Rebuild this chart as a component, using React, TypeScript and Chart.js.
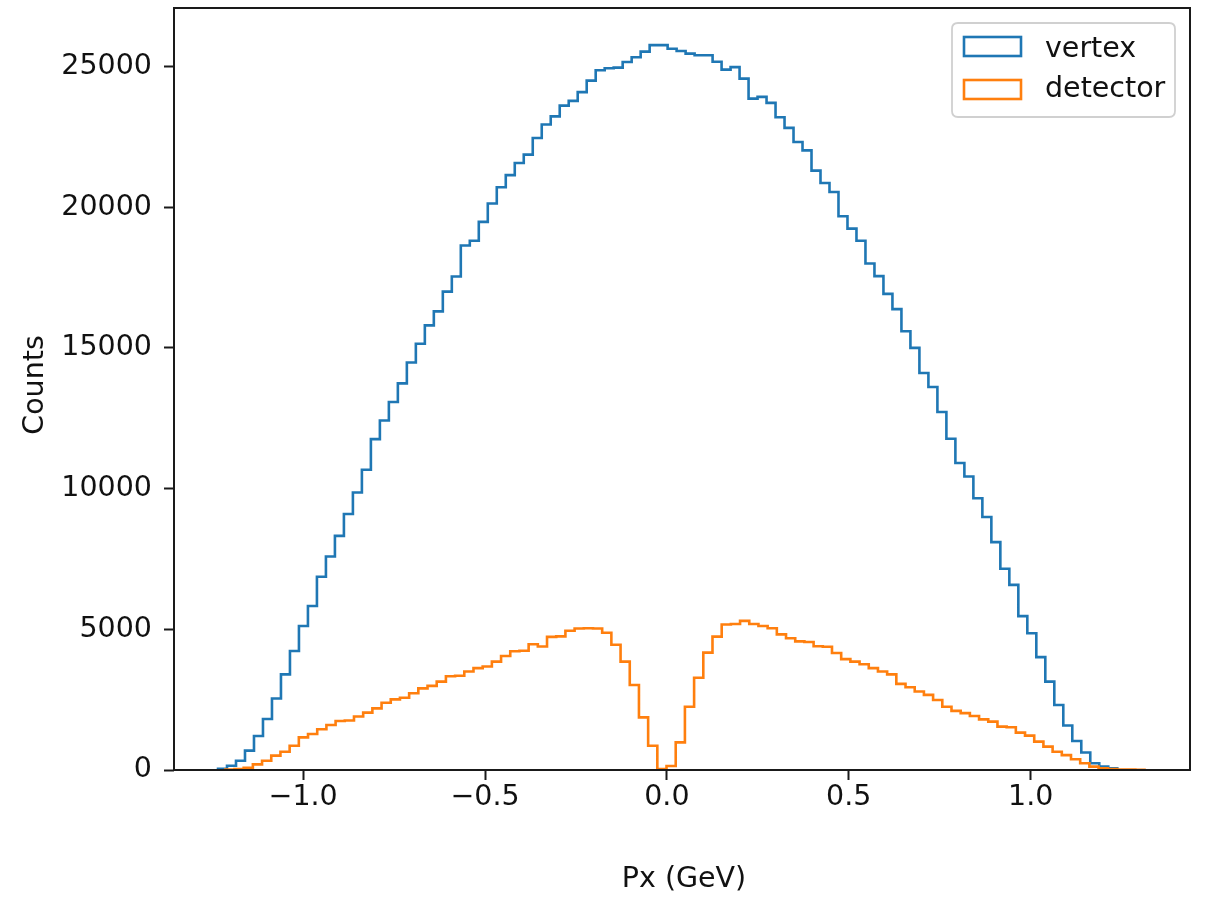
import React, { useEffect, useRef } from "react";
import { Chart, registerables } from "chart.js";

Chart.register(...registerables);

// Histogram bin counts (100 equal-width bins per series)
const vertexCounts = [
  40, 150, 330, 690, 1210, 1810, 2540, 3400, 4230, 5120,
  5830, 6870, 7590, 8320, 9100, 9860, 10670, 11760, 12420, 13080,
  13740, 14480, 15150, 15800, 16300, 17000, 17540, 18640, 18810, 19480,
  20130, 20710, 21140, 21570, 21870, 22460, 22940, 23230, 23610, 23780,
  24090, 24500, 24870, 24940, 24960, 25160, 25330, 25530, 25760, 25760,
  25630, 25550, 25460, 25400, 25400, 25170, 24890, 24980, 24570, 23860,
  23920, 23710, 23200, 22820, 22320, 22020, 21300, 20860, 20540, 19680,
  19240, 18810, 18000, 17550, 16920, 16380, 15590, 15000, 14110, 13610,
  12720, 11770, 10910, 10430, 9660, 8990, 8100, 7150, 6580, 5470,
  4860, 4010, 3140, 2310, 1580, 1030, 620, 240, 120, 60,
];

const detectorCounts = [
  20, 30, 80, 200, 330, 510, 650, 860, 1160, 1280,
  1450, 1600, 1740, 1760, 1900, 2040, 2190, 2390, 2510, 2570,
  2730, 2900, 2990, 3140, 3330, 3350, 3500, 3620, 3680, 3850,
  4050, 4220, 4240, 4470, 4390, 4730, 4750, 4950, 5030, 5040,
  5030, 4880, 4450, 3850, 3020, 1870, 860, 35, 140, 980,
  2250, 3280, 4170, 4740, 5170, 5190, 5300, 5190, 5120, 5040,
  4820, 4680, 4570, 4550, 4400, 4380, 4160, 3940, 3850, 3760,
  3620, 3500, 3400, 3060, 2940, 2790, 2670, 2490, 2250, 2100,
  2020, 1920, 1800, 1720, 1540, 1520, 1330, 1220, 1010, 830,
  650, 530, 380, 240, 120, 60, 30, 20, 15, 10,
];

// Histogram ranges (first and last bin edge) in GeV
const vertexRange = [-1.234, 1.238];
const detectorRange = [-1.214, 1.313];

const seriesLabels = ["vertex", "detector"];
const seriesColors = ["#1f77b4", "#ff7f0e"];
const xTicks = [-1.0, -0.5, 0.0, 0.5, 1.0];
const yTicks = [0, 5000, 10000, 15000, 20000, 25000];
const xLimits = [-1.355, 1.438];
const yLimits = [0, 27080];
const xTitle = "Px (GeV)";
const yTitle = "Counts";

const FONT = "'DejaVu Sans', sans-serif";
const FONT_SIZE = 28.5;
const TEXT_COLOR = "#111111";
const SPINE_COLOR = "#1a1a1a";

function stepOutline(counts: number[], range: number[]) {
  const n = counts.length;
  const w = (range[1] - range[0]) / n;
  const pts: { x: number; y: number }[] = [{ x: range[0], y: 0 }];
  counts.forEach((c, i) => {
    pts.push({ x: range[0] + i * w, y: c });
    pts.push({ x: range[0] + (i + 1) * w, y: c });
  });
  pts.push({ x: range[1], y: 0 });
  return pts;
}

function fmtTick(v: number, digits: number) {
  const s = v.toFixed(digits);
  return s.replace("-", "\u2212");
}

const decorPlugin = {
  id: "decor",
  afterDatasetsDraw(chart: any) {
    const { ctx, chartArea } = chart;
    const { left, right, top, bottom } = chartArea;
    ctx.save();
    ctx.strokeStyle = SPINE_COLOR;
    ctx.lineWidth = 2;
    ctx.strokeRect(left, top, right - left, bottom - top);
    ctx.restore();
  },
  afterDraw(chart: any) {
    const { ctx, chartArea } = chart;
    const { left, right, top, bottom } = chartArea;
    ctx.save();
    // Legend box
    const bx = right - 238;
    const by = top + 15;
    const bw = 223;
    const bh = 94;
    const r = 6;
    ctx.beginPath();
    ctx.moveTo(bx + r, by);
    ctx.lineTo(bx + bw - r, by);
    ctx.quadraticCurveTo(bx + bw, by, bx + bw, by + r);
    ctx.lineTo(bx + bw, by + bh - r);
    ctx.quadraticCurveTo(bx + bw, by + bh, bx + bw - r, by + bh);
    ctx.lineTo(bx + r, by + bh);
    ctx.quadraticCurveTo(bx, by + bh, bx, by + bh - r);
    ctx.lineTo(bx, by + r);
    ctx.quadraticCurveTo(bx, by, bx + r, by);
    ctx.closePath();
    ctx.fillStyle = "rgba(255,255,255,0.8)";
    ctx.fill();
    ctx.strokeStyle = "#d0d0d0";
    ctx.lineWidth = 1.8;
    ctx.stroke();

    seriesLabels.forEach((label, i) => {
      const rowTop = by + 14 + i * 43;
      ctx.strokeStyle = seriesColors[i];
      ctx.lineWidth = 2.6;
      ctx.strokeRect(bx + 12, rowTop, 57, 19);
      ctx.fillStyle = TEXT_COLOR;
      ctx.font = `${FONT_SIZE}px ${FONT}`;
      ctx.textAlign = "left";
      ctx.textBaseline = "alphabetic";
      ctx.fillText(label, bx + 93, by + 34 + i * 39.5);
    });

    // Axis titles
    ctx.fillStyle = TEXT_COLOR;
    ctx.font = `${FONT_SIZE}px ${FONT}`;
    ctx.textAlign = "center";
    ctx.textBaseline = "alphabetic";
    ctx.fillText(xTitle, (left + right) / 2 + 2, 887);

    ctx.translate(43, (top + bottom) / 2 - 4);
    ctx.rotate(-Math.PI / 2);
    ctx.fillText(yTitle, 0, 0);
    ctx.restore();
  },
};

export default function App() {
  const canvasRef = useRef<HTMLCanvasElement | null>(null);

  useEffect(() => {
    const canvas = canvasRef.current;
    if (!canvas) return;
    const chart = new Chart(canvas, {
      type: "line",
      data: {
        datasets: [
          {
            label: seriesLabels[0],
            data: stepOutline(vertexCounts, vertexRange),
            borderColor: seriesColors[0],
            borderWidth: 2.6,
            pointRadius: 0,
            fill: false,
            tension: 0,
            order: 2,
            borderJoinStyle: "miter",
          },
          {
            label: seriesLabels[1],
            data: stepOutline(detectorCounts, detectorRange),
            borderColor: seriesColors[1],
            borderWidth: 2.6,
            pointRadius: 0,
            fill: false,
            tension: 0,
            order: 1,
            borderJoinStyle: "miter",
          },
        ],
      },
      options: {
        responsive: false,
        animation: false,
        devicePixelRatio: 1,
        layout: { padding: { top: 8, right: 17, left: 0, bottom: 0 } },
        plugins: {
          legend: { display: false },
          tooltip: { enabled: false },
          title: { display: false },
        },
        scales: {
          x: {
            type: "linear",
            min: xLimits[0],
            max: xLimits[1],
            afterBuildTicks: (scale: any) => {
              scale.ticks = xTicks.map((v) => ({ value: v }));
            },
            afterFit: (scale: any) => {
              scale.height = 133;
              scale.paddingLeft = 0;
              scale.paddingRight = 0;
            },
            grid: {
              drawOnChartArea: false,
              drawTicks: true,
              tickLength: 10,
              tickWidth: 2,
              tickColor: SPINE_COLOR,
            },
            border: { display: false },
            ticks: {
              autoSkip: false,
              maxRotation: 0,
              padding: 0,
              color: TEXT_COLOR,
              font: { family: FONT, size: FONT_SIZE },
              callback: (v: any) => fmtTick(Number(v), 1),
            },
          },
          y: {
            type: "linear",
            min: yLimits[0],
            max: yLimits[1],
            afterBuildTicks: (scale: any) => {
              scale.ticks = yTicks.map((v) => ({ value: v }));
            },
            afterFit: (scale: any) => {
              scale.width = 174;
              scale.paddingTop = 0;
              scale.paddingBottom = 0;
            },
            grid: {
              drawOnChartArea: false,
              drawTicks: true,
              tickLength: 10,
              tickWidth: 2,
              tickColor: SPINE_COLOR,
            },
            border: { display: false },
            ticks: {
              autoSkip: false,
              padding: 12,
              color: TEXT_COLOR,
              font: { family: FONT, size: FONT_SIZE },
              callback: (v: any) => String(Math.round(Number(v))),
            },
          },
        },
      },
      plugins: [decorPlugin],
    });
    return () => chart.destroy();
  }, []);

  return (
    <div style={{ position: "fixed", left: 0, top: 0, width: 1207, height: 903, background: "#fff" }}>
      <canvas ref={canvasRef} width={1207} height={903} style={{ display: "block" }} />
    </div>
  );
}
